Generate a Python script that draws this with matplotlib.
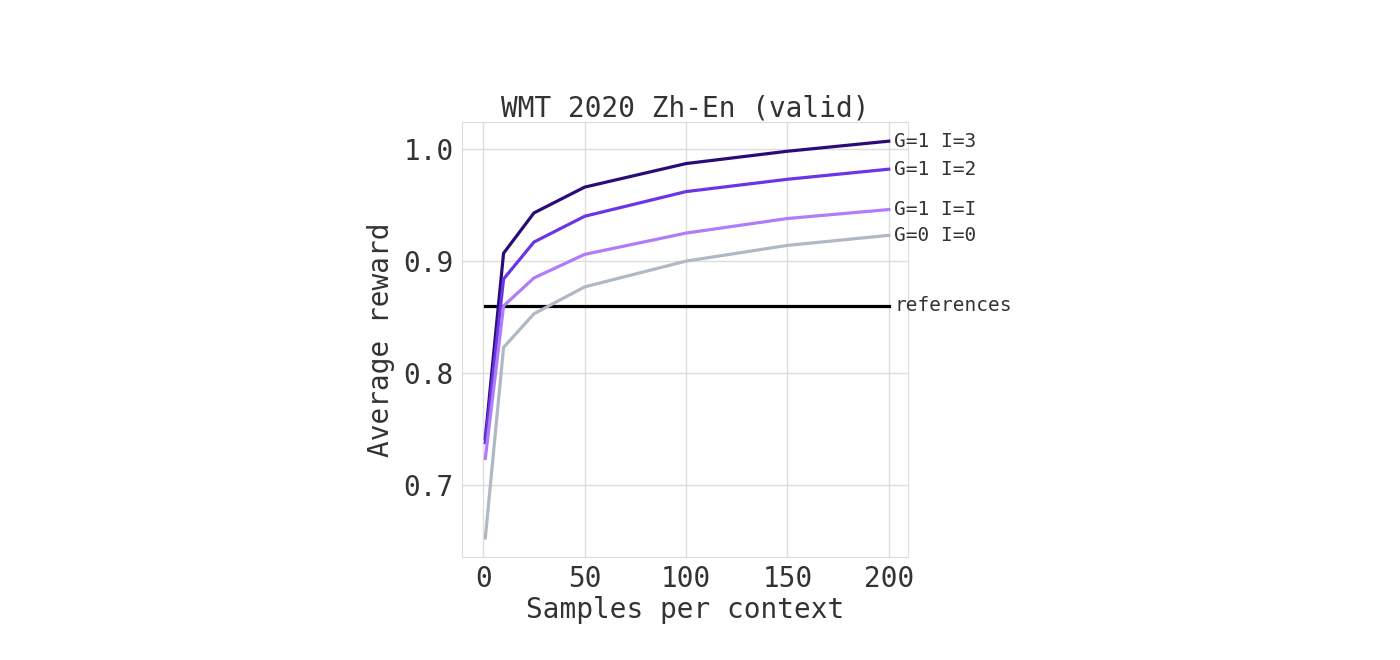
import matplotlib
matplotlib.use("Agg")
import matplotlib.pyplot as plt

samples = [1, 10, 25, 50, 100, 150, 200]
series_names = ["G=1 I=3", "G=1 I=2", "G=1 I=I", "G=0 I=0"]
series_values = [
    [0.742, 0.907, 0.943, 0.966, 0.987, 0.998, 1.007],
    [0.738, 0.884, 0.917, 0.940, 0.962, 0.973, 0.982],
    [0.724, 0.860, 0.885, 0.906, 0.925, 0.938, 0.946],
    [0.653, 0.823, 0.853, 0.877, 0.900, 0.914, 0.923],
]
series_colors = ["#2a0c78", "#6a35e6", "#b07cfb", "#b0b8c4"]
reference_value = 0.86
x_ticks = [0, 50, 100, 150, 200]
y_ticks = [0.7, 0.8, 0.9, 1.0]

plt.rcParams['font.family'] = ['DejaVu Sans Mono']
plt.rcParams['text.color'] = '#333333'
plt.rcParams['axes.labelcolor'] = '#333333'

fig = plt.figure(figsize=(14, 6.6), dpi=100)
ax = fig.add_axes([0.33, 0.156, 0.3186, 0.659])

for name, vals, color in zip(series_names, series_values, series_colors):
    ax.plot(samples, vals, color=color, lw=2.3, zorder=3)
    ax.annotate(name, xy=(samples[-1], vals[-1]), xytext=(4, 0),
                textcoords='offset points', va='center', ha='left',
                fontsize=14, color='#333333', annotation_clip=False)

ax.plot([samples[0], samples[-1]], [reference_value, reference_value],
        color='black', lw=2.3, zorder=2)
ax.annotate("references", xy=(samples[-1], reference_value), xytext=(4, 0),
            textcoords='offset points', va='center', ha='left',
            fontsize=14, color='#333333', annotation_clip=False)

ax.set_xlim(-10.5, 209.5)
ax.set_ylim(0.636, 1.024)
ax.set_xticks(x_ticks)
ax.set_yticks(y_ticks)
ax.set_yticklabels([f"{t:.1f}" for t in y_ticks])
ax.tick_params(length=0, labelsize=20, colors='#333333', pad=6)
ax.grid(color='#dddddd', lw=1)
ax.set_axisbelow(True)
for s in ax.spines.values():
    s.set_color('#dddddd')

ax.set_title("WMT 2020 Zh-En (valid)", fontsize=20, pad=4)
ax.set_xlabel("Samples per context", fontsize=20, labelpad=2)
ax.set_ylabel("Average reward", fontsize=20, labelpad=6)

fig.savefig("out.png", dpi=100)
